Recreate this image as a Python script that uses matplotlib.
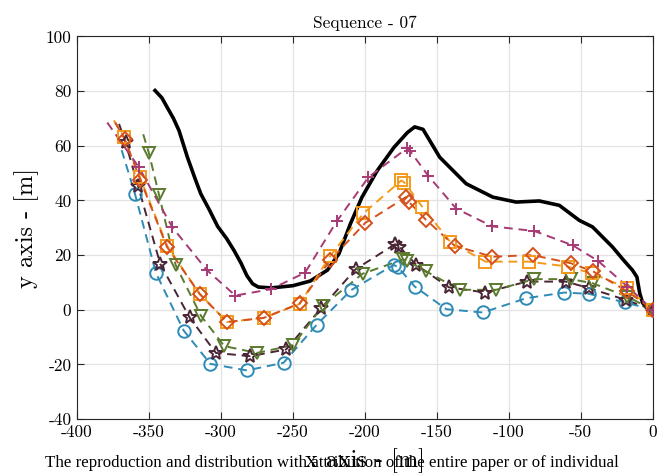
import matplotlib
matplotlib.use("Agg")
import matplotlib.pyplot as plt

plt.rcParams['font.family'] = ['cmr10', 'DejaVu Serif']
plt.rcParams['axes.unicode_minus'] = False
plt.rcParams['mathtext.fontset'] = 'cm'

# Ground truth (black solid)
gt_x = [-345.8, -341, -337.2, -333, -329.1, -323.3, -318, -314, -308, -302.3, -296, -290.7, -286,
        -282, -278, -274, -265, -250, -238, -226, -218, -210, -202, -191.4, -179.8, -170.5,
        -165.4, -159.6, -148, -129.6, -111.1, -94.9, -78.8, -64.9, -51, -41.8, -28, -20,
        -14.1, -11, -9, -7, -4, 0]
gt_y = [80.2, 77.5, 73.9, 70, 65.5, 55.8, 48, 42.4, 36.5, 30.5, 26, 21.5, 17,
        12.5, 9.5, 8.3, 8, 8.8, 10.5, 14.5, 20.5, 31.5, 41.2, 50.9, 59.4, 64.8,
        66.9, 66, 55.8, 46.1, 41.2, 39.4, 39.8, 38.2, 32.7, 30.3, 23, 18,
        14.5, 12, 6, 2.5, 0.8, 0]

# Blue circles
c_x = [-369, -359.8, -345.2, -325.9, -307.4, -282, -256.5, -233.5, -209.5, -180, -177, -165.4,
       -143.4, -118, -88, -61.4, -44.2, -19.2, 0]
c_y = [58.4, 42.5, 13.5, -7.6, -19.8, -22.2, -19.4, -5.5, 7.2, 16.4, 15.6, 8.5,
       0.2, -1, 4.2, 6.3, 5.8, 2.7, 0]

# Dark stars
s_x = [-370.8, -366.3, -357.5, -342.2, -321.8, -303.5, -279.6, -254.6, -230.5, -206.5, -179, -176,
       -164.2, -141.6, -116.2, -87.5, -60.3, -44.2, -18.7, 0]
s_y = [68, 61.2, 45.1, 16.8, -2.8, -15.8, -17, -14.5, 0.5, 14.8, 24, 23,
       16.4, 8.2, 6.3, 10.3, 10.3, 7.9, 3.6, 0]

# Green triangles
t_x = [-354, -350, -343, -331.5, -313.9, -297.7, -275, -250, -229, -201.5, -173.4, -171,
       -157.3, -134.2, -108.8, -82.2, -56.8, -41.8, -17.6, 0]
t_y = [64.2, 57.2, 42, 16.4, -2.2, -13.3, -15.8, -13, 1.5, 13.2, 18.4, 18,
       14, 7.3, 7.3, 11.2, 11.2, 9.7, 4.8, 0]

# Orange squares
q_x = [-374.4, -367.6, -356.3, -337.3, -314.8, -295.8, -270.4, -245.4, -224.3, -201, -174.6, -172.5,
       -160, -140.6, -116.2, -86.1, -59.1, -42.2, -17.6, 0]
q_y = [69.3, 63.3, 48.5, 23.3, 5.8, -4.5, -3, 2.1, 19.5, 35.3, 47.3, 46.5,
       37.6, 24.8, 17.6, 17.6, 15.8, 13.3, 7.9, 0]

# Red-orange diamonds
d_x = [-373.5, -367, -356, -337.5, -314.8, -295.8, -270.4, -245.3, -224, -199.7, -171.5, -169.5,
       -157.7, -137.6, -111.5, -83.4, -56.8, -41.3, -17.6, 0]
d_y = [68.5, 62.5, 47.5, 23, 5.8, -4.5, -3, 2.3, 18.2, 31.8, 41.2, 39.5,
       33, 23.4, 19.4, 20, 17, 14, 6.7, 0]

# Magenta plus
p_x = [-379, -357, -333.8, -309.8, -290, -265.3, -241.5, -219.6, -197.5, -171, -168.5,
       -156.1, -136.5, -111.5, -82.2, -55.7, -38.3, -17.6, 0]
p_y = [68.5, 52.1, 30.2, 14.5, 5.2, 7.5, 13.6, 32.3, 48.5, 59, 58,
       49.1, 37, 30.5, 28.8, 23.6, 18, 8.5, 0]

fig = plt.figure(figsize=(6.64, 4.73), dpi=100)
ax = fig.add_axes([0.116, 0.114, 0.867, 0.809])

ax.plot(gt_x, gt_y, color='black', lw=2.6, zorder=2, solid_joinstyle='round')

dash = (0, (4.5, 3))
series = [
    (c_x, c_y, 'o', '#2E8BB5', 1),
    (s_x, s_y, '*', '#4A2535', 1),
    (t_x, t_y, 'v', '#5A7A2E', 1),
    (q_x, q_y, 's', '#F39A1B', 1),
    (d_x, d_y, 'D', '#D5501B', 1),
    (p_x, p_y, '+', '#A63A74', 1),
]
for xs, ys, m, col, start in series:
    ax.plot(xs, ys, ls=dash, color=col, lw=1.4, zorder=3)
    ms = 9 if m in ('o', 's', 'v', '+') else (7 if m == 'D' else 10)
    ax.plot(xs[start:], ys[start:], ls='none', marker=m, ms=ms, mfc='none', mec=col,
            mew=1.4, zorder=4)

ax.set_xlim(-400, 0)
ax.set_ylim(-40, 100)
ax.set_xticks(range(-400, 1, 50))
ax.set_yticks(range(-40, 101, 20))
ax.grid(True, color='#e3e3e3', lw=0.9)
ax.set_axisbelow(True)
ax.tick_params(direction='in', top=True, right=True, length=5, width=0.8,
               labelsize=12.5, colors='#262626', labelcolor='black', pad=4)
for sp in ax.spines.values():
    sp.set_color('#262626')
    sp.set_linewidth(0.8)

ax.set_title('Sequence - 07', fontsize=12.5, pad=6)
ax.set_xlabel('x axis - [m]', fontsize=17.5, labelpad=6)
ax.set_ylabel('y axis - [m]', fontsize=17.5, labelpad=5)

fig.text(0.5, 0.012, 'The reproduction and distribution with attribution of the entire paper or of individual',
         ha='center', va='baseline', fontsize=12.2, family='Liberation Serif')

fig.savefig('out.png', dpi=100)
